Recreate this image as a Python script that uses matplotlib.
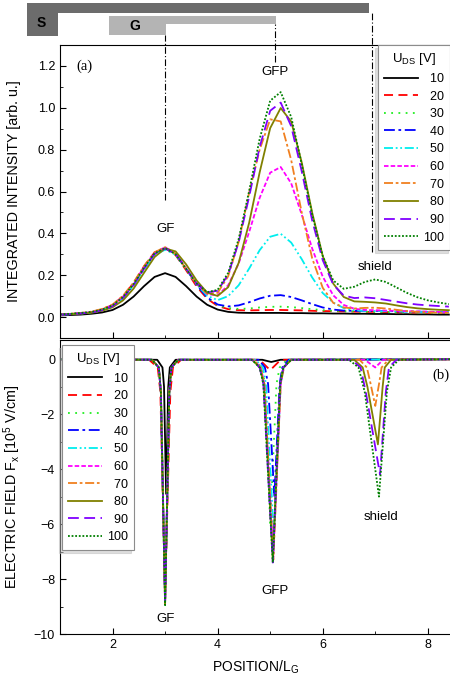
import matplotlib.pyplot as plt
from matplotlib.patches import Rectangle
from matplotlib.ticker import MultipleLocator

plt.rcParams['font.family'] = ['Liberation Sans', 'DejaVu Sans']
plt.rcParams['font.size'] = 9
plt.rcParams['mathtext.fontset'] = 'custom'
plt.rcParams['mathtext.rm'] = 'Liberation Sans'
plt.rcParams['mathtext.it'] = 'Liberation Sans'

# ---- data ----
voltages = [10, 20, 30, 40, 50, 60, 70, 80, 90, 100]

# (a) integrated intensity
pos_a = [1.0, 1.2, 1.4, 1.6, 1.8, 2.0, 2.2, 2.4, 2.6, 2.8, 3.0, 3.2, 3.4, 3.6, 3.8, 4.0, 4.2, 4.4, 4.6,
         4.8, 5.0, 5.2, 5.4, 5.6, 5.8, 6.0, 6.2, 6.4, 6.6, 6.8, 7.0, 7.2, 7.4, 7.6, 7.8, 8.0, 8.2, 8.4]
int_10 = [.008, .010, .012, .016, .022, .034, .059, .098, .148, .192, .210, .192, .148, .098, .059, .036, .025, .021, .020,
          .020, .020, .020, .019, .019, .018, .018, .017, .017, .016, .016, .015, .015, .014, .014, .013, .013, .012, .012]
int_20 = [.013, .015, .019, .024, .036, .058, .100, .163, .243, .309, .330, .296, .224, .146, .088, .053, .038, .033, .032,
          .033, .034, .034, .033, .032, .030, .029, .028, .027, .026, .025, .025, .024, .023, .022, .022, .021, .020, .020]
int_30 = [.012, .014, .017, .021, .032, .052, .092, .153, .232, .302, .328, .302, .232, .153, .093, .057, .043, .039, .041,
          .046, .049, .050, .048, .043, .038, .033, .030, .028, .027, .026, .025, .024, .023, .022, .022, .021, .020, .020]
int_40 = [.012, .014, .018, .022, .033, .052, .092, .153, .232, .302, .330, .302, .232, .154, .094, .060, .051, .056, .071,
          .089, .102, .105, .096, .080, .062, .046, .036, .031, .030, .030, .030, .029, .028, .027, .026, .025, .024, .023]
int_50 = [.012, .014, .018, .022, .033, .052, .090, .150, .228, .296, .322, .298, .230, .156, .102, .081, .100, .152, .232,
          .320, .384, .398, .356, .277, .189, .115, .069, .043, .033, .030, .029, .028, .027, .026, .025, .024, .023, .022]
int_60 = [.012, .015, .019, .024, .036, .057, .098, .160, .240, .308, .334, .304, .232, .159, .110, .104, .152, .256, .407,
          .570, .690, .717, .639, .490, .327, .193, .104, .058, .040, .034, .033, .031, .030, .028, .027, .026, .025, .024]
int_70 = [.013, .016, .020, .026, .039, .060, .102, .165, .244, .310, .334, .302, .230, .159, .112, .116, .195, .359, .595,
          .800, .945, .935, .750, .500, .280, .140, .068, .046, .041, .044, .045, .041, .035, .029, .025, .023, .021, .020]
int_80 = [.012, .014, .017, .021, .030, .047, .080, .136, .212, .287, .328, .314, .252, .175, .117, .101, .143, .259, .451,
          .692, .903, .999, .934, .739, .498, .292, .160, .096, .075, .073, .070, .065, .056, .048, .042, .038, .035, .033]
int_90 = [.012, .014, .018, .022, .033, .052, .092, .153, .232, .302, .328, .302, .232, .161, .118, .126, .203, .357, .576,
          .813, .986, 1.025, .912, .697, .461, .272, .155, .103, .091, .094, .090, .082, .074, .066, .060, .056, .053, .050]
int_100 = [.013, .016, .020, .025, .036, .056, .096, .158, .237, .305, .330, .300, .230, .161, .119, .130, .211, .373, .603,
           .852, 1.034, 1.075, .956, .730, .489, .292, .175, .135, .145, .168, .180, .168, .142, .116, .095, .080, .070, .062]
intensity = [int_10, int_20, int_30, int_40, int_50, int_60, int_70, int_80, int_90, int_100]

# (b) electric field, 1e5 V/cm
pos_b_10 = [1.0, 2.85, 2.95, 2.98, 3.02, 3.06, 3.09, 3.2, 4.85, 5.02, 5.2, 8.45]
fx_10 = [0.0, -0.02, -0.3, -1.0, -4.9, -1.0, -0.3, -0.02, -0.02, -0.1, -0.02, 0.0]
pos_b_20 = [1.0, 2.7, 2.86, 2.91, 3.0, 3.1, 3.15, 3.3, 4.8, 5.0, 5.2, 8.45]
fx_20 = [0.0, -0.03, -0.3, -1.2, -8.6, -1.2, -0.3, -0.03, -0.02, -0.4, -0.02, 0.0]
pos_b_30 = [1.0, 2.75, 2.88, 2.92, 3.0, 3.08, 3.12, 3.25, 4.7, 4.84, 4.9, 5.0, 5.12, 5.18, 5.32, 8.45]
fx_30 = [0.0, -0.02, -0.3, -1.2, -8.7, -1.2, -0.3, -0.02, -0.02, -0.3, -0.9, -6.0, -0.9, -0.3, -0.02, 0.0]
pos_b_40 = [1.0, 2.75, 2.88, 2.92, 3.0, 3.08, 3.12, 3.25, 4.78, 4.9, 4.96, 5.08, 5.18, 5.23, 5.35, 8.45]
fx_40 = [0.0, -0.02, -0.3, -1.2, -8.8, -1.2, -0.3, -0.02, -0.02, -0.3, -0.9, -5.0, -0.9, -0.3, -0.02, 0.0]
pos_b_50 = [1.0, 2.75, 2.88, 2.92, 3.0, 3.08, 3.12, 3.25, 4.72, 4.86, 4.92, 5.07, 5.2, 5.26, 5.38, 8.45]
fx_50 = [0.0, -0.02, -0.3, -1.2, -8.8, -1.2, -0.3, -0.02, -0.02, -0.3, -0.9, -6.5, -0.9, -0.3, -0.02, 0.0]
pos_b_60 = [1.0, 2.75, 2.88, 2.92, 3.0, 3.08, 3.12, 3.25, 4.68, 4.82, 4.89, 5.06, 5.2, 5.26, 5.4,
            6.8, 7.0, 7.15, 8.45]
fx_60 = [0.0, -0.02, -0.3, -1.2, -8.85, -1.2, -0.3, -0.02, -0.02, -0.3, -0.9, -7.2, -0.9, -0.3, -0.02,
         -0.02, -0.3, -0.02, 0.0]
pos_b_70 = [1.0, 2.75, 2.88, 2.92, 3.0, 3.08, 3.12, 3.25, 4.68, 4.82, 4.89, 5.06, 5.2, 5.26, 5.4,
            6.7, 6.84, 6.9, 7.0, 7.08, 7.12, 7.25, 8.45]
fx_70 = [0.0, -0.02, -0.3, -1.2, -8.9, -1.2, -0.3, -0.02, -0.02, -0.3, -0.9, -7.3, -0.9, -0.3, -0.02,
         -0.02, -0.3, -0.8, -1.7, -0.8, -0.3, -0.02, 0.0]
pos_b_80 = [1.0, 2.75, 2.88, 2.92, 3.0, 3.08, 3.12, 3.25, 4.66, 4.8, 4.88, 5.05, 5.19, 5.25, 5.4,
            6.6, 6.76, 6.85, 7.05, 7.14, 7.18, 7.3, 8.45]
fx_80 = [0.0, -0.02, -0.3, -1.2, -8.9, -1.2, -0.3, -0.02, -0.02, -0.3, -0.9, -7.35, -0.9, -0.3, -0.02,
         -0.02, -0.3, -1.0, -3.1, -1.0, -0.3, -0.02, 0.0]
pos_b_90 = [1.0, 2.75, 2.88, 2.92, 3.0, 3.08, 3.12, 3.25, 4.65, 4.8, 4.87, 5.05, 5.19, 5.25, 5.4,
            6.55, 6.72, 6.82, 7.09, 7.2, 7.26, 7.4, 8.45]
fx_90 = [0.0, -0.02, -0.3, -1.2, -8.9, -1.2, -0.3, -0.02, -0.02, -0.3, -0.9, -7.4, -0.9, -0.3, -0.02,
         -0.02, -0.3, -1.2, -4.2, -1.2, -0.3, -0.02, 0.0]
pos_b_100 = [1.0, 2.75, 2.88, 2.92, 3.0, 3.08, 3.12, 3.25, 4.65, 4.8, 4.87, 5.05, 5.19, 5.25, 5.4,
             6.5, 6.68, 6.8, 7.07, 7.22, 7.3, 7.45, 8.45]
fx_100 = [0.0, -0.02, -0.3, -1.2, -8.95, -1.2, -0.3, -0.02, -0.02, -0.3, -0.9, -7.4, -0.9, -0.3, -0.02,
          -0.02, -0.3, -1.2, -5.0, -1.2, -0.3, -0.02, 0.0]
pos_b = [pos_b_10, pos_b_20, pos_b_30, pos_b_40, pos_b_50, pos_b_60, pos_b_70, pos_b_80, pos_b_90, pos_b_100]
field = [fx_10, fx_20, fx_30, fx_40, fx_50, fx_60, fx_70, fx_80, fx_90, fx_100]

# ---- styles ----
colors = ['black', '#ff0000', '#22ee22', '#0000ff', '#00eeee', '#ff00ff', '#f08020', '#808000', '#8000ff', '#007f00']
dashes = ['-', (0, (5, 3)), (0, (1, 3)), (0, (6, 2, 1.5, 2)), (0, (5, 1.5, 1, 1.5, 1, 1.5)),
          (0, (2.5, 1.2)), (0, (5, 1.5, 1.5, 1.5)), '-', (0, (6, 3)), (0, (1, 1))]

fig = plt.figure(figsize=(4.5, 6.77), dpi=100)
ax_a = fig.add_axes([0.1333, 0.5007, 0.87, 0.4328])
ax_b = fig.add_axes([0.1333, 0.0635, 0.87, 0.4343])

labels = ['\u2007' + str(v) if v < 100 else str(v) for v in voltages]

for i in range(len(voltages)):
    ax_a.plot(pos_a, intensity[i], color=colors[i], linestyle=dashes[i], lw=1.3, label=labels[i])
    ax_b.plot(pos_b[i], field[i], color=colors[i], linestyle=dashes[i], lw=1.3, label=labels[i])

for ax in (ax_a, ax_b):
    ax.set_xlim(1.0, 8.45)
    ax.xaxis.set_major_locator(MultipleLocator(2))
    ax.xaxis.set_minor_locator(MultipleLocator(1))
    ax.tick_params(which='both', direction='in', labelsize=9)
    ax.tick_params(which='major', length=4)
    ax.tick_params(which='minor', length=2.5)

ax_a.set_ylim(-0.1, 1.3)
ax_a.yaxis.set_major_locator(MultipleLocator(0.2))
ax_a.yaxis.set_minor_locator(MultipleLocator(0.1))
ax_a.tick_params(labelbottom=False)
ax_a.yaxis.set_major_formatter(plt.FormatStrFormatter('%.1f'))
ax_a.set_ylabel('INTEGRATED INTENSITY [arb. u.]', fontsize=10.3)
ax_a.yaxis.set_label_coords(-0.1, 0.5)

ax_b.set_ylim(-10, 0.7)
ax_b.yaxis.set_major_locator(MultipleLocator(2))
ax_b.yaxis.set_minor_locator(MultipleLocator(1))
ax_b.set_ylabel('ELECTRIC FIELD F$_{\\rm x}$ [10$^5$ V/cm]', fontsize=10.3)
ax_b.yaxis.set_label_coords(-0.094, 0.5)
ax_b.set_xlabel('POSITION/L$_{\\rm G}$', fontsize=10)
ax_b.xaxis.set_label_coords(0.5, -0.085)

# panel tags and peak names
ax_a.text(1.32, 1.2, '(a)', family=['Liberation Serif', 'DejaVu Serif'], fontsize=10.5, va='center')
ax_b.text(8.42, -0.6, '(b)', family=['Liberation Serif', 'DejaVu Serif'], fontsize=10.5, va='center', ha='right')
ax_a.text(3.0, 0.42, 'GF', ha='center', va='center', fontsize=9.5)
ax_a.text(5.1, 1.17, 'GFP', ha='center', va='center', fontsize=9.5)
ax_a.text(7.0, 0.24, 'shield', ha='center', va='center', fontsize=9.5)
ax_b.text(3.0, -9.45, 'GF', ha='center', va='center', fontsize=9.5)
ax_b.text(5.1, -8.45, 'GFP', ha='center', va='center', fontsize=9.5)
ax_b.text(7.1, -5.75, 'shield', ha='center', va='center', fontsize=9.5)

# device sketch above panel (a): source and gate electrodes
ax_a.add_patch(Rectangle((0.38, 1.452), 6.5, 0.048, color='#6c6c6c', clip_on=False, lw=0))
ax_a.add_patch(Rectangle((0.38, 1.343), 0.59, 0.11, color='#6c6c6c', clip_on=False, lw=0))
ax_a.add_patch(Rectangle((1.94, 1.40), 3.165, 0.038, color='#b4b4b4', clip_on=False, lw=0))
ax_a.add_patch(Rectangle((1.94, 1.348), 1.07, 0.06, color='#b4b4b4', clip_on=False, lw=0))
ax_a.text(0.64, 1.405, 'S', ha='center', va='center', fontsize=10, fontweight='bold')
ax_a.text(2.42, 1.39, 'G', ha='center', va='center', fontsize=10, fontweight='bold')
for xm, y0, y1 in [(3.0, 0.56, 1.348), (5.1, 1.22, 1.40), (6.93, 0.31, 1.452)]:
    ax_a.plot([xm, xm], [y0, y1], color='black', lw=0.8, linestyle=(0, (6, 2, 1, 2)), clip_on=False)

leg_kw = dict(title='U$_{\\rm DS}$ [V]', fontsize=9, title_fontsize=9.5, handlelength=2.7,
              handletextpad=0.4, labelspacing=0.45, borderpad=0.5, fancybox=False,
              edgecolor='0.55', framealpha=1, shadow={'color': '0.75', 'ox': -2, 'oy': -2})
leg_a = ax_a.legend(loc='upper right', bbox_to_anchor=(0.997, 1.0), borderaxespad=0, **leg_kw)
leg_b = ax_b.legend(loc='upper left', bbox_to_anchor=(0.005, 0.983), borderaxespad=0, **leg_kw)
for leg in (leg_a, leg_b):
    leg.get_frame().set_linewidth(0.8)

fig.savefig('out.png', dpi=100)
